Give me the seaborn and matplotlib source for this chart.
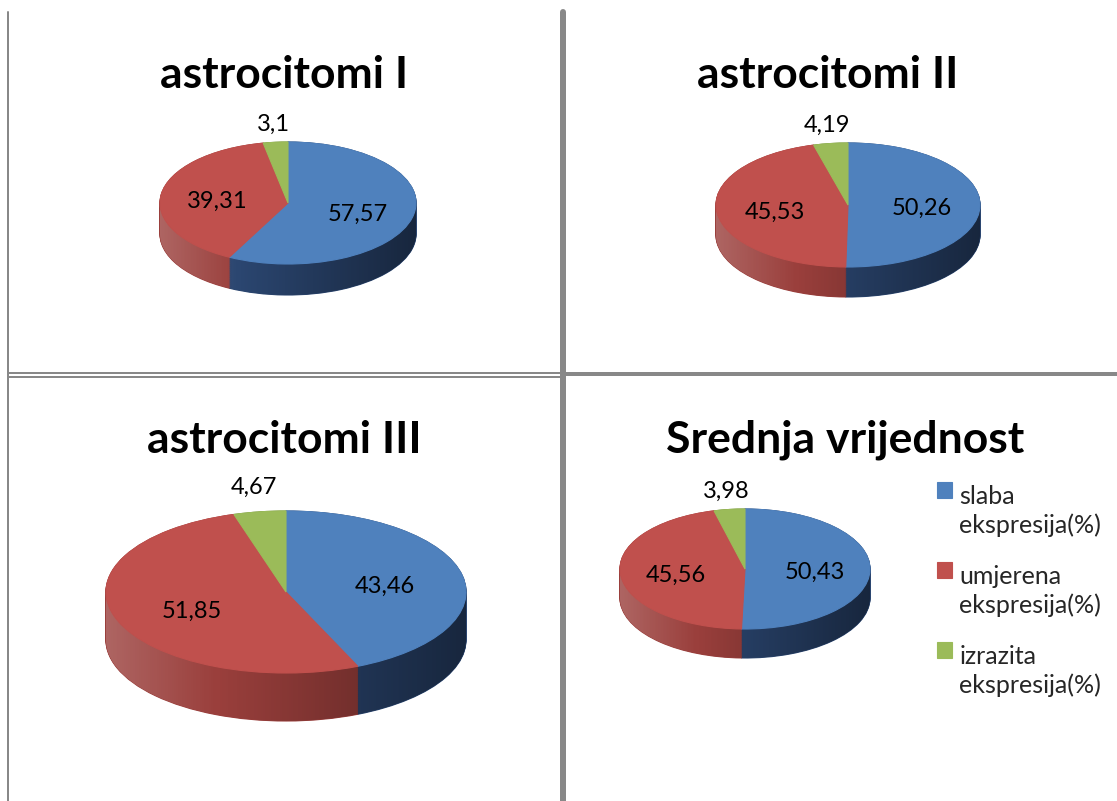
import numpy as np
import matplotlib
matplotlib.use("Agg")
import matplotlib.pyplot as plt
import seaborn as sns
from matplotlib.lines import Line2D
from matplotlib.patches import Polygon, Rectangle
from matplotlib.legend_handler import HandlerPatch

sns.set_theme(style="white")
plt.rcParams['font.family'] = ['Lato', 'DejaVu Sans']

# data
titles = ["astrocitomi I", "astrocitomi II", "astrocitomi III", "Srednja vrijednost"]
categories = ["slaba\nekspresija(%)", "umjerena\nekspresija(%)", "izrazita\nekspresija(%)"]
slaba = [57.57, 50.26, 43.46, 50.43]
umjerena = [39.31, 45.53, 51.85, 45.56]
izrazita = [3.1, 4.19, 4.67, 3.98]

colors = ["#4F81BD", "#C0504D", "#9BBB59"]
side_colors = ["#2B4670", "#9A3F3C", "#6E8A3C"]

W, H = 1117, 801
fig = plt.figure(figsize=(W / 100, H / 100), dpi=100)

# panel layout in pixels: box, title position, pie centre, radii, depth
panels = [
    dict(box=(9, 12, 560, 372), tx=284, ty=75, cx=288, cy=203, rx=128, ry=61, d=31),
    dict(box=(566, 12, 1117, 372), tx=828, ty=75, cx=848, cy=205, rx=132, ry=62, d=30),
    dict(box=(9, 378, 560, 801), tx=284, ty=440, cx=286, cy=592, rx=180, ry=81, d=48),
    dict(box=(566, 376, 1117, 801), tx=845, ty=440, cx=745, cy=569, rx=125, ry=60, d=29),
]


def fmt(v):
    return ("%g" % v).replace(".", ",")


wedges_last = None
for i, p in enumerate(panels):
    x0, y0, x1, y1 = p["box"]
    ax = fig.add_axes([x0 / W, 1 - y1 / H, (x1 - x0) / W, (y1 - y0) / H])
    vals = [slaba[i], umjerena[i], izrazita[i]]
    depth = p["d"] / p["ry"]

    # side wall: stacked pies
    for dy in np.linspace(-depth, 0, int(p["d"] * 1.5)):
        ws, _ = ax.pie(vals, colors=side_colors, startangle=90, counterclock=False,
                       center=(0, dy), radius=1, wedgeprops=dict(linewidth=0.8))
        for w in ws:
            w.set_edgecolor(w.get_facecolor())

    # shading on the side wall, light left -> dark right
    t = np.linspace(np.pi, 2 * np.pi, 200)
    band = np.concatenate([np.c_[np.cos(t), np.sin(t)],
                           np.c_[np.cos(t[::-1]), np.sin(t[::-1]) - depth]])
    clip = Polygon(band, closed=True, transform=ax.transData, facecolor="none", edgecolor="none")
    ax.add_patch(clip)
    s = np.linspace(-0.2, 0.45, 256)
    grad = np.zeros((2, 256, 4))
    grad[..., :3] = (s < 0)[None, :, None] * 1.0
    grad[..., 3] = np.abs(s)[None, :]
    im = ax.imshow(grad, extent=(-1, 1, -1 - depth, 0), aspect="auto", zorder=5)
    im.set_clip_path(clip)

    # top face
    wedges, _ = ax.pie(vals, colors=colors, startangle=90, counterclock=False,
                       radius=1, wedgeprops=dict(linewidth=0.8))
    for w in wedges:
        w.set_edgecolor(w.get_facecolor())
        w.set_zorder(10)
    wedges_last = wedges

    # value labels
    start = 90.0
    total = sum(vals)
    for v in vals:
        mid = np.deg2rad(start - v / total * 180.0)
        start -= v / total * 360.0
        if v > 10:
            lx, ly = 0.56 * np.cos(mid), 0.56 * np.sin(mid) - 0.05
        else:
            lx, ly = 1.2 * np.cos(mid), 1.3 * np.sin(mid)
        ax.text(lx, ly, fmt(v), ha="center", va="center", fontsize=17,
                color="black", zorder=20)

    ax.set_aspect("auto")
    ax.set_xlim((x0 - p["cx"]) / p["rx"], (x1 - p["cx"]) / p["rx"])
    ax.set_ylim((p["cy"] - y1) / p["ry"], (p["cy"] - y0) / p["ry"])
    ax.axis("off")

    fig.text(p["tx"] / W, 1 - p["ty"] / H, titles[i], ha="center", va="center",
             fontsize=32, fontweight="bold", color="black")


# legend squares sit level with the first line of each label
def top_square(legend, orig_handle, xdescent, ydescent, width, height, fontsize):
    return Rectangle((-xdescent, -ydescent + 0.88 * fontsize), width, height)


leg = fig.legend(wedges_last, categories, loc="upper left", bbox_to_anchor=(937 / W, 1 - 485 / H),
                 frameon=False, fontsize=18, handlelength=0.6, handleheight=0.6,
                 handletextpad=0.3, labelspacing=1.1, borderaxespad=0, borderpad=0,
                 handler_map={w: HandlerPatch(patch_func=top_square) for w in wedges_last})
for txt in leg.get_texts():
    txt.set_linespacing(1.3)

# panel borders
gray = "#888888"
lw_px = 72 / 100
fig.add_artist(Line2D([8 / W, 8 / W], [1 - 12 / H, 0], color=gray, lw=2 * lw_px))
fig.add_artist(Line2D([563 / W, 563 / W], [1 - 12 / H, 0], color=gray, lw=6 * lw_px))
fig.add_artist(Line2D([9 / W, 560 / W], [1 - 373 / H, 1 - 373 / H], color=gray, lw=2 * lw_px))
fig.add_artist(Line2D([9 / W, 560 / W], [1 - 377 / H, 1 - 377 / H], color=gray, lw=2 * lw_px))
fig.add_artist(Line2D([566 / W, 1], [1 - 374 / H, 1 - 374 / H], color=gray, lw=4 * lw_px))

fig.savefig("out.png", dpi=100, facecolor="white")
